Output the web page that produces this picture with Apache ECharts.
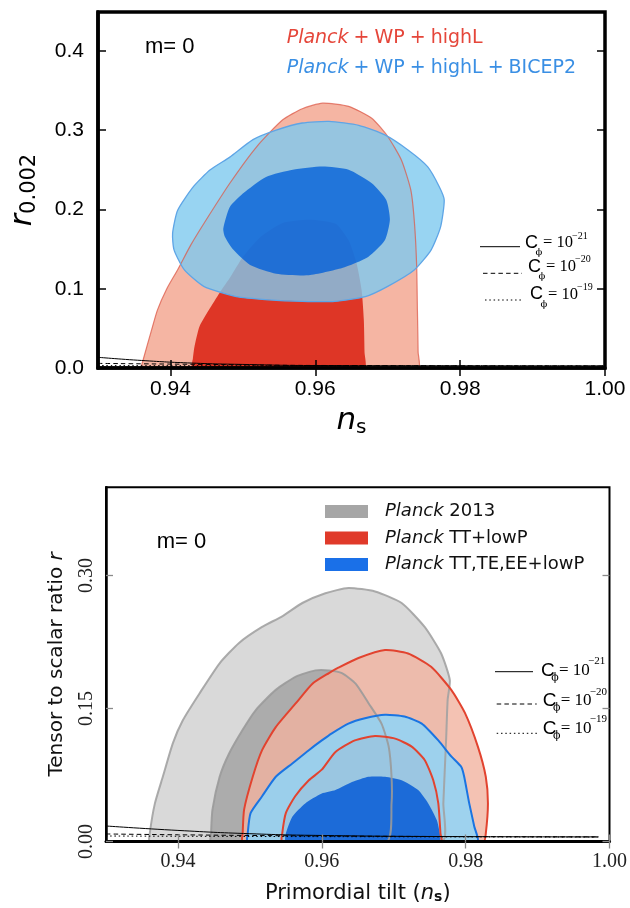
<!DOCTYPE html>
<html>
<head>
<meta charset="utf-8">
<title>ns - r constraints</title>
<script src="https://cdn.jsdelivr.net/npm/echarts@6.0.0/dist/echarts.min.js"></script>
<style>
  html, body { margin: 0; padding: 0; background: #fff; }
  #chart { width: 630px; height: 908px; }
</style>
</head>
<body>
<div id="chart"></div>
<script>
// axis ranges and ticks
const nsRange = [0.93, 1.00];
const topRRange = [0, 0.449];
const botRRange = [0, 0.3995];
const topTickX = [0.94, 0.96, 0.98, 1.00];
const topTickY = [0.0, 0.1, 0.2, 0.3, 0.4];
const botTickX = [0.94, 0.96, 0.98, 1.00];
const botTickY = [0.00, 0.15, 0.30];

// top panel contours, [ns, r]
const topRedOuter = [[0.9360,0],[0.9361,0.006],[0.9374,0.048],[0.9382,0.073],[0.9395,0.100],[0.9410,0.124],[0.9428,0.155],[0.9446,0.182],[0.9482,0.233],[0.9519,0.279],[0.9555,0.313],[0.9582,0.327],[0.9610,0.334],[0.9646,0.330],[0.9678,0.315],[0.9700,0.292],[0.9719,0.262],[0.9732,0.224],[0.9737,0.182],[0.9740,0.128],[0.9741,0.073],[0.9742,0.020],[0.9742,0]];
const topRedInner = [[0.9430,0],[0.9431,0.012],[0.9433,0.026],[0.9440,0.052],[0.9453,0.073],[0.9468,0.095],[0.9483,0.115],[0.9500,0.140],[0.9524,0.165],[0.9555,0.183],[0.9592,0.187],[0.9628,0.182],[0.9646,0.161],[0.9657,0.132],[0.9664,0.098],[0.9667,0.061],[0.9668,0.020],[0.9668,0]];
const topBlueOuter = [[0.9403,0.170],[0.9410,0.199],[0.9432,0.229],[0.9455,0.250],[0.9482,0.266],[0.9514,0.288],[0.9546,0.300],[0.9582,0.309],[0.9619,0.311],[0.9660,0.306],[0.9696,0.294],[0.9728,0.275],[0.9755,0.254],[0.9771,0.229],[0.9778,0.212],[0.9773,0.178],[0.9760,0.149],[0.9737,0.124],[0.9700,0.103],[0.9669,0.090],[0.9627,0.084],[0.9582,0.084],[0.9535,0.086],[0.9491,0.090],[0.9446,0.103],[0.9419,0.124],[0.9405,0.149]];
const topBlueInner = [[0.9473,0.176],[0.9482,0.203],[0.9500,0.220],[0.9532,0.241],[0.9569,0.250],[0.9610,0.254],[0.9646,0.250],[0.9678,0.233],[0.9698,0.212],[0.9703,0.187],[0.9696,0.161],[0.9673,0.140],[0.9637,0.126],[0.9591,0.117],[0.9546,0.119],[0.9510,0.130],[0.9487,0.149],[0.9475,0.166]];

// bottom panel contours, [ns, r]
const botGreyOuter = [[0.9361,0],[0.9361,0.010],[0.9368,0.043],[0.9379,0.073],[0.9393,0.111],[0.9407,0.137],[0.9430,0.167],[0.9458,0.201],[0.9485,0.224],[0.9517,0.242],[0.9545,0.254],[0.9573,0.269],[0.9605,0.280],[0.9637,0.286],[0.9674,0.282],[0.9711,0.269],[0.9743,0.242],[0.9766,0.212],[0.9778,0.182],[0.9775,0.160],[0.9773,0.118],[0.9771,0.081],[0.9769,0.043],[0.9767,0]];
const botGreyInner = [[0.9446,0],[0.9446,0.009],[0.9448,0.036],[0.9458,0.073],[0.9471,0.099],[0.9490,0.126],[0.9508,0.148],[0.9536,0.171],[0.9564,0.186],[0.9591,0.193],[0.9610,0.193],[0.9628,0.190],[0.9647,0.178],[0.9665,0.156],[0.9683,0.133],[0.9693,0.107],[0.9697,0.073],[0.9697,0.043],[0.9690,0]];
const botRedOuter = [[0.9490,0],[0.9490,0.009],[0.9492,0.036],[0.9504,0.073],[0.9517,0.103],[0.9536,0.129],[0.9564,0.156],[0.9587,0.178],[0.9610,0.190],[0.9623,0.196],[0.9651,0.207],[0.9688,0.216],[0.9720,0.212],[0.9752,0.197],[0.9780,0.171],[0.9799,0.145],[0.9817,0.107],[0.9828,0.073],[0.9831,0.043],[0.9828,0.009],[0.9825,0]];
const botRedInner = [[0.9545,0],[0.9545,0.009],[0.9550,0.032],[0.9563,0.051],[0.9582,0.069],[0.9600,0.081],[0.9619,0.101],[0.9646,0.114],[0.9674,0.119],[0.9702,0.116],[0.9725,0.107],[0.9743,0.092],[0.9755,0.069],[0.9762,0.043],[0.9765,0.009],[0.9766,0]];
const botBlueOuter = [[0.9497,0],[0.9497,0.009],[0.9501,0.032],[0.9517,0.051],[0.9536,0.073],[0.9559,0.088],[0.9582,0.103],[0.9600,0.114],[0.9614,0.122],[0.9637,0.133],[0.9660,0.139],[0.9688,0.143],[0.9715,0.141],[0.9739,0.133],[0.9762,0.114],[0.9780,0.096],[0.9794,0.084],[0.9798,0.073],[0.9805,0.043],[0.9812,0.017],[0.9816,0]];
const botBlueInner = [[0.9550,0],[0.9550,0.009],[0.9559,0.028],[0.9577,0.043],[0.9600,0.054],[0.9619,0.058],[0.9642,0.067],[0.9665,0.073],[0.9688,0.073],[0.9711,0.069],[0.9734,0.058],[0.9748,0.043],[0.9760,0.024],[0.9764,0.009],[0.9764,0]];

// C_phi curves (solid 1e-21, dashed 1e-20, dotted 1e-19)
const cSolidTop = [[0.930,0.0135],[0.936,0.0095],[0.943,0.0062],[0.950,0.0045],[0.960,0.0031],[0.980,0.0028],[1.000,0.0027]];
const cDashTop = [[0.930,0.0058],[0.945,0.0045],[0.960,0.0032],[1.000,0.0026]];
const cDotTop = [[0.930,0.0030],[1.000,0.0024]];
const cSolidBot = [[0.930,0.0175],[0.940,0.0125],[0.950,0.0088],[0.960,0.0068],[0.980,0.0055],[0.9985,0.0052]];
const cDashBot = [[0.930,0.0085],[0.950,0.0068],[0.970,0.0058],[0.9985,0.0052]];
const cDotBot = [[0.930,0.0062],[0.960,0.0055],[0.9985,0.0050]];
const cExponents = ['\u221221', '\u221220', '\u221219'];

const topLabels = ['Planck+WP+highL', 'Planck+WP+highL+BICEP2'];
const botNames = ['Planck 2013', 'Planck TT+lowP', 'Planck TT,TE,EE+lowP'];

const chart = echarts.init(document.getElementById('chart'));

// filled / stroked contour polygons drawn through the cartesian scales
function contourSeries(name, axisIdx, polys, styles, legendColor) {
  return {
    name, type: 'custom', xAxisIndex: axisIdx, yAxisIndex: axisIdx,
    clip: true, silent: true,
    itemStyle: { color: legendColor || '#999' },
    data: polys.map(p => p[0]),
    renderItem: (params, api) => {
      const st = styles[params.dataIndex];
      return {
        type: 'polygon',
        shape: { points: polys[params.dataIndex].map(p => api.coord(p)), smooth: 0.2 },
        style: {
          fill: st.fill || 'none',
          stroke: st.stroke || 'none',
          lineWidth: st.width || 0,
          opacity: st.opacity == null ? 1 : st.opacity
        }
      };
    }
  };
}

const DASH = [4.5, 3.2], DOT = [1.5, 2.8];
function cLine(name, data, axisIdx, type) {
  return {
    name, type: 'line', xAxisIndex: axisIdx, yAxisIndex: axisIdx, data,
    smooth: true, symbol: 'none', silent: true, z: 4,
    lineStyle: { color: '#000', width: 1, type }
  };
}

function txt(x, y, text, font, extra) {
  return Object.assign({
    type: 'text', x, y, z: 20,
    style: Object.assign({
      text, fill: '#000', align: 'left', verticalAlign: 'middle',
      textAlign: 'left', textVerticalAlign: 'middle'
    }, font)
  }, extra || {});
}

// C_phi legend (line sample + C_phi = 10^n)
function cLegend(rows, f) {
  const dashes = [null, DASH, DOT];
  const els = [];
  rows.forEach((row, i) => {
    els.push({
      type: 'line', z: 20,
      shape: { x1: row.lx, y1: row.ly, x2: row.lx + row.len, y2: row.ly },
      style: { stroke: '#000', lineWidth: 1, lineDash: dashes[i] }
    });
    els.push(txt(row.lx + f.cdx, row.ty, 'C', { fontFamily: 'Liberation Sans', fontSize: f.c }));
    els.push(txt(row.lx + f.pdx, row.ty + f.pdy, '\u03d5', { fontFamily: 'DejaVu Serif', fontSize: f.s, align: 'center', textAlign: 'center' }));
    els.push(txt(row.lx + f.edx, row.ty, '= 10', { fontFamily: 'Liberation Serif', fontSize: f.e }));
    els.push(txt(row.lx + f.sdx, row.ty + f.sdy, cExponents[i], { fontFamily: 'Liberation Serif', fontSize: f.s }));
  });
  return els;
}

const topLegendRich = {
  i: { fontFamily: 'DejaVu Sans', fontStyle: 'italic', fontSize: 19 },
  p: { fontFamily: 'DejaVu Sans', fontSize: 19, padding: [0, 5, 0, 5] }
};
function topLabel(s) {
  return s.replace('Planck', '{i|Planck}').replace(/\+/g, '{p|+}');
}

const tickTop = { show: true, inside: true, length: 8, lineStyle: { color: '#000', width: 1.5 } };
const tickBot = { show: true, inside: true, length: 7, lineStyle: { color: '#8a8a8a', width: 1.3 } };

const option = {
  animation: false,
  backgroundColor: '#fff',
  grid: [
    { left: 93, top: 12, width: 512, height: 356, show: true, borderColor: '#000', borderWidth: 3.5, z: 10 },
    { left: 106, top: 487.3, width: 506.7, height: 354.2, show: true, borderColor: '#000', borderWidth: 2, z: 10 }
  ],
  xAxis: [
    {
      gridIndex: 0, type: 'value', min: nsRange[0], max: nsRange[1], position: 'bottom', z: 10,
      axisLine: { show: true, onZero: false, lineStyle: { color: '#000', width: 3.5 } },
      axisTick: Object.assign({ customValues: topTickX }, tickTop),
      axisLabel: { customValues: topTickX, formatter: v => v.toFixed(2), margin: 11, color: '#000', fontFamily: 'Liberation Sans', fontSize: 21 },
      splitLine: { show: false },
      name: '{n|n}{s|s}', nameLocation: 'middle', nameGap: 36,
      nameTextStyle: { rich: {
        n: { fontFamily: 'DejaVu Sans', fontStyle: 'italic', fontSize: 31, lineHeight: 34, verticalAlign: 'middle', color: '#000' },
        s: { fontFamily: 'DejaVu Sans', fontSize: 20, lineHeight: 22, verticalAlign: 'bottom', color: '#000' }
      } }
    },
    {
      gridIndex: 0, type: 'value', min: nsRange[0], max: nsRange[1], position: 'top', z: 10,
      axisLine: { show: false }, axisLabel: { show: false }, splitLine: { show: false },
      axisTick: Object.assign({ customValues: topTickX }, tickTop)
    },
    {
      gridIndex: 1, type: 'value', min: nsRange[0], max: nsRange[1], position: 'bottom', z: 10,
      axisLine: { show: true, onZero: false, lineStyle: { color: '#000', width: 3 } },
      axisTick: Object.assign({ customValues: botTickX }, tickBot),
      axisLabel: { customValues: botTickX, formatter: v => v.toFixed(2), margin: 10, color: '#222', fontFamily: 'Liberation Serif', fontSize: 20 },
      splitLine: { show: false },
      name: 'Primordial tilt ({n|n}{s|s})', nameLocation: 'middle', nameGap: 42,
      nameTextStyle: {
        fontFamily: 'DejaVu Sans', fontSize: 21, color: '#111',
        rich: {
          n: { fontFamily: 'DejaVu Sans', fontStyle: 'italic', fontSize: 21, color: '#111' },
          s: { fontFamily: 'DejaVu Sans', fontSize: 14, fontWeight: 'bold', verticalAlign: 'bottom', lineHeight: 16, color: '#111' }
        }
      }
    },
    {
      gridIndex: 1, type: 'value', min: nsRange[0], max: nsRange[1], position: 'top', z: 10,
      axisLine: { show: false }, axisLabel: { show: false }, splitLine: { show: false },
      axisTick: Object.assign({ customValues: botTickX }, tickBot)
    }
  ],
  yAxis: [
    {
      gridIndex: 0, type: 'value', min: topRRange[0], max: topRRange[1], position: 'left', z: 10,
      axisLine: { show: true, onZero: false, lineStyle: { color: '#000', width: 3.5 } },
      axisTick: Object.assign({ customValues: topTickY }, tickTop),
      axisLabel: { customValues: topTickY, formatter: v => v.toFixed(1), margin: 14, color: '#000', fontFamily: 'Liberation Sans', fontSize: 21 },
      splitLine: { show: false },
      name: '{r|r}{s|0.002}', nameLocation: 'middle', nameGap: 58, nameRotate: 90,
      nameTextStyle: { rich: {
        r: { fontFamily: 'DejaVu Sans', fontStyle: 'italic', fontSize: 30, lineHeight: 34, verticalAlign: 'middle', color: '#000' },
        s: { fontFamily: 'DejaVu Sans', fontSize: 21, lineHeight: 22, verticalAlign: 'bottom', color: '#000' }
      } }
    },
    {
      gridIndex: 0, type: 'value', min: topRRange[0], max: topRRange[1], position: 'right', z: 10,
      axisLine: { show: false }, axisLabel: { show: false }, splitLine: { show: false },
      axisTick: Object.assign({ customValues: topTickY }, tickTop)
    },
    {
      gridIndex: 1, type: 'value', min: botRRange[0], max: botRRange[1], position: 'left', z: 10,
      axisLine: { show: true, onZero: false, lineStyle: { color: '#000', width: 2.5 } },
      axisTick: Object.assign({ customValues: botTickY }, tickBot),
      axisLabel: { customValues: botTickY, formatter: v => v.toFixed(2), rotate: 90, margin: 9, color: '#222', fontFamily: 'Liberation Serif', fontSize: 20 },
      splitLine: { show: false },
      name: 'Tensor to scalar ratio {r|r}', nameLocation: 'middle', nameGap: 39, nameRotate: 90,
      nameTextStyle: {
        fontFamily: 'DejaVu Sans', fontSize: 20, color: '#111',
        rich: { r: { fontFamily: 'DejaVu Sans', fontStyle: 'italic', fontSize: 20, color: '#111' } }
      }
    },
    {
      gridIndex: 1, type: 'value', min: botRRange[0], max: botRRange[1], position: 'right', z: 10,
      axisLine: { show: false }, axisLabel: { show: false }, splitLine: { show: false },
      axisTick: Object.assign({ customValues: botTickY }, tickBot)
    }
  ],
  legend: {
    data: botNames, orient: 'vertical', left: 325, top: 502.5, padding: 0,
    icon: 'rect', itemWidth: 43, itemHeight: 13, itemGap: 8.5,
    selectedMode: false,
    formatter: name => name.replace('Planck', '{i|Planck}'),
    textStyle: {
      fontFamily: 'DejaVu Sans', fontSize: 18, color: '#111',
      rich: { i: { fontFamily: 'DejaVu Sans', fontStyle: 'italic', fontSize: 18, color: '#111', padding: [0, 0, 0, 12] } }
    }
  },
  series: [
    // top panel
    contourSeries(topLabels[0], 0, [topRedOuter, topRedInner], [
      { fill: '#f5b5a3' }, { fill: '#de3626' }
    ]),
    contourSeries(topLabels[1], 0, [topBlueOuter, topBlueInner], [
      { fill: 'rgba(126,201,239,0.8)' }, { fill: 'rgba(4,96,216,0.8)' }
    ]),
    contourSeries('top edges', 0, [topRedOuter, topBlueOuter], [
      { stroke: '#dc5a48', width: 1.2, opacity: 0.75 }, { stroke: '#5ea5e6', width: 1.3 }
    ]),
    cLine('solid', cSolidTop, 0, 'solid'),
    cLine('dashed', cDashTop, 0, DASH),
    cLine('dotted', cDotTop, 0, DOT),
    // bottom panel
    contourSeries(botNames[0], 2, [botGreyOuter, botGreyInner], [
      { fill: '#d9d9d9' }, { fill: '#acacac' }
    ], '#a6a6a6'),
    contourSeries(botNames[1], 2, [botRedOuter, botRedInner], [
      { fill: 'rgba(241,179,160,0.8)' }, { fill: 'rgba(215,70,50,0.6)' }
    ], '#e03a2a'),
    contourSeries(botNames[2], 2, [botBlueOuter, botBlueInner], [
      { fill: 'rgba(142,213,248,0.85)' }, { fill: 'rgba(18,100,215,0.93)' }
    ], '#1a70e8'),
    contourSeries('bottom edges', 2, [botGreyOuter, botGreyInner, botRedOuter, botRedInner, botBlueOuter], [
      { stroke: '#a2a2a2', width: 2, opacity: 0.9 },
      { stroke: '#9a9a9a', width: 2, opacity: 0.9 },
      { stroke: '#e2432f', width: 2 },
      { stroke: '#e2432f', width: 2 },
      { stroke: '#1a74e2', width: 2 }
    ]),
    cLine('solid', cSolidBot, 2, 'solid'),
    cLine('dashed', cDashBot, 2, DASH),
    cLine('dotted', cDotBot, 2, DOT)
  ],
  graphic: [
    txt(145, 47, 'm= 0', { fontFamily: 'Liberation Sans', fontSize: 22 }),
    txt(286.7, 38, topLabel(topLabels[0]), { fontFamily: 'DejaVu Sans', fontSize: 19, fill: '#e5463a', rich: topLegendRich }),
    txt(286.7, 68, topLabel(topLabels[1]), { fontFamily: 'DejaVu Sans', fontSize: 19, fill: '#3a8fe4', rich: topLegendRich }),
    txt(156.7, 541.7, 'm= 0', { fontFamily: 'Liberation Sans', fontSize: 22 })
  ]
    .concat(cLegend([
      { lx: 480, len: 40, ly: 246.7, ty: 243 },
      { lx: 483, len: 39, ly: 273.3, ty: 266.7 },
      { lx: 485, len: 38, ly: 300, ty: 294.5 }
    ], { c: 18, e: 16.5, s: 10, cdx: 45, pdx: 59, pdy: 9.5, edx: 63, sdx: 92, sdy: -7 }))
    .concat(cLegend([
      { lx: 495, len: 38, ly: 671.7, ty: 670.5 },
      { lx: 496.7, len: 40, ly: 704, ty: 701 },
      { lx: 496.7, len: 41, ly: 733.3, ty: 728.5 }
    ], { c: 19, e: 17, s: 11, cdx: 46, pdx: 60, pdy: 7.5, edx: 64, sdx: 93, sdy: -9 }))
};

chart.setOption(option);
</script>
</body>
</html>
